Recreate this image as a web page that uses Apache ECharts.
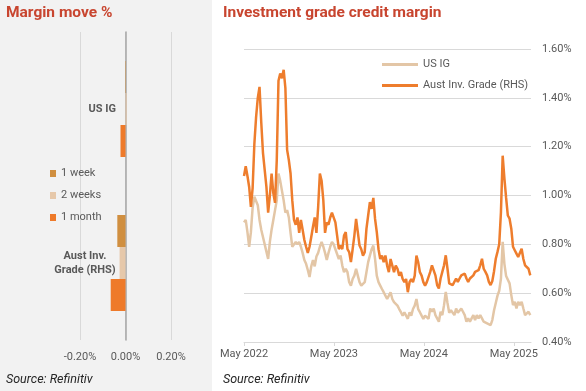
<!DOCTYPE html>
<html>
<head>
<meta charset="utf-8">
<script src="https://cdn.jsdelivr.net/npm/echarts@6/dist/echarts.min.js"></script>
<style>
html,body{margin:0;padding:0;background:#fff;}
#c{width:586px;height:391px;}
</style>
</head>
<body>
<div id="c"></div>
<script>
// ---- Left panel: margin move % ----
const moveCategories = ['US IG', 'Aust Inv. Grade (RHS)'];
const moveSeriesNames = ['1 week', '2 weeks', '1 month'];
const move1Week = [0.002, -0.036];
const move2Weeks = [0.005, -0.026];
const move1Month = [-0.022, -0.065];
const moveTicks = [-0.2, 0, 0.2];

// ---- Right panel: investment grade credit margin (weekly from start date) ----
const lineStartDate = '2022-05-01';
const lineStepDays = 7;
const usIG = [
0.89,0.90,0.85,0.79,0.85,0.95,0.995,0.99,0.96,0.90,0.86,0.83,0.83,0.77,0.74,0.81,0.86,0.90,0.94,0.98,1.09,1.06,1.02,0.98,0.93,0.94,0.91,0.847,0.79,0.79,0.81,0.80,0.81,0.79,0.765,0.736,0.72,0.695,0.666,0.71,0.736,0.71,0.75,0.765,0.79,0.81,0.79,0.765,0.736,0.765,0.79,0.81,0.80,0.78,
0.78,0.74,0.754,0.713,0.686,0.70,0.686,0.645,0.631,0.658,0.672,0.70,0.672,0.645,0.631,0.631,0.645,0.686,0.727,0.754,0.78,0.795,0.74,0.672,0.645,0.631,0.617,0.604,0.59,0.576,0.59,0.604,0.576,0.563,0.563,0.549,0.535,0.522,0.508,0.522,0.508,0.495,0.522,0.508,0.535,0.549,0.576,0.535,0.522,0.508,0.495,0.508,0.50,0.495,
0.537,0.524,0.537,0.51,0.497,0.483,0.524,0.51,0.551,0.605,0.56,0.52,0.53,0.524,0.51,0.537,0.52,0.524,0.537,0.524,0.51,0.483,0.497,0.483,0.497,0.51,0.49,0.51,0.497,0.51,0.497,0.483,0.49,0.476,0.483,0.469,0.49,0.53,0.56,0.59,0.61,0.66,0.81,0.72,0.67,0.673,0.64,0.592,0.551,0.565,0.537,0.565,0.551,0.565,0.537,0.51,0.503,0.524,0.51
];
const austIG = [
1.08,1.12,1.08,1.035,0.953,1.03,1.21,1.32,1.40,1.445,1.30,1.175,1.105,1.035,0.93,1.0,1.09,1.01,0.97,1.145,1.47,1.50,1.48,1.515,1.44,1.187,1.145,1.09,0.98,0.90,0.88,0.91,0.847,0.90,0.86,0.818,0.79,0.765,0.79,0.83,0.872,0.91,0.847,0.953,1.09,1.06,0.98,0.847,0.89,0.88,0.91,0.93,0.93,0.89,
0.836,0.78,0.795,0.78,0.836,0.85,0.78,0.768,0.727,0.78,0.836,0.904,0.85,0.795,0.78,0.754,0.768,0.863,0.918,0.973,0.945,0.99,0.904,0.85,0.78,0.74,0.754,0.727,0.754,0.713,0.686,0.74,0.713,0.686,0.713,0.70,0.672,0.686,0.658,0.645,0.658,0.604,0.645,0.658,0.645,0.672,0.754,0.727,0.686,0.672,0.645,0.631,0.645,0.645,
0.687,0.714,0.707,0.673,0.633,0.619,0.66,0.687,0.714,0.755,0.70,0.64,0.64,0.633,0.64,0.66,0.646,0.66,0.673,0.667,0.68,0.66,0.646,0.66,0.66,0.673,0.687,0.68,0.694,0.714,0.741,0.70,0.687,0.673,0.646,0.633,0.65,0.69,0.741,0.769,0.80,0.932,1.163,1.07,0.99,0.918,0.905,0.864,0.79,0.776,0.762,0.748,0.741,0.782,0.74,0.714,0.721,0.70,0.673
];
const lineTickLabels = ['May 2022', 'May 2023', 'May 2024', 'May 2025'];
const lineYTicks = [0.4, 0.6, 0.8, 1.0, 1.2, 1.4, 1.6];

// build x (days since start) from the weekly schedule
const dayOffsets = usIG.map((_, i) => i * lineStepDays);
const usSeries = usIG.map((v, i) => [dayOffsets[i], v]);
const auSeries = austIG.map((v, i) => [dayOffsets[i], v]);

const FONT = 'Roboto';
const GREY = '#595959';
const chart = echarts.init(document.getElementById('c'), null, {renderer: 'canvas'});

chart.setOption({
  animation: false,
  textStyle: {fontFamily: FONT},
  graphic: [
    {type: 'rect', left: 0, top: 0, z: -10, shape: {width: 212, height: 391}, style: {fill: '#f2f2f2'}},
    {type: 'text', left: 6, top: 5, style: {text: 'Margin move %', fill: '#c8452f', font: 'bold 15.5px ' + FONT}},
    {type: 'text', left: 223, top: 5, style: {text: 'Investment grade credit margin', fill: '#c8452f', font: 'bold 15.5px ' + FONT}},
    {type: 'text', left: 6, top: 373, style: {text: 'Source: Refinitiv', fill: '#262626', font: 'italic 12.5px ' + FONT}},
    {type: 'text', left: 223, top: 373, style: {text: 'Source: Refinitiv', fill: '#262626', font: 'italic 12.5px ' + FONT}}
  ],
  legend: [
    {
      data: moveSeriesNames, orient: 'vertical', left: 45, top: 163,
      icon: 'rect', itemWidth: 6, itemHeight: 7, itemGap: 11,
      textStyle: {color: GREY, fontSize: 11, fontFamily: FONT}
    },
    {
      data: ['US IG', 'Aust Inv. Grade (RHS)'], orient: 'vertical', left: 377, top: 54,
      icon: 'rect', itemWidth: 36, itemHeight: 3, itemGap: 10,
      textStyle: {color: GREY, fontSize: 11, fontFamily: FONT}
    }
  ],
  grid: [
    {left: 80, right: 415, top: 32, bottom: 51},
    {left: 244, right: 55, top: 49, bottom: 49}
  ],
  xAxis: [
    {
      gridIndex: 0, type: 'value', min: moveTicks[0], max: moveTicks[moveTicks.length - 1], interval: 0.2,
      axisLine: {show: false}, axisTick: {show: false},
      splitLine: {show: true, lineStyle: {color: '#d9d9d9', width: 1}},
      axisLabel: {color: GREY, fontSize: 11, margin: 12, formatter: v => v.toFixed(2) + '%'}
    },
    {
      gridIndex: 1, type: 'value', min: 0, max: 1165, interval: 365,
      axisLine: {show: true, lineStyle: {color: '#d9d9d9', width: 1}},
      axisTick: {show: true, length: 4, lineStyle: {color: '#d9d9d9'}},
      splitLine: {show: false},
      axisLabel: {color: GREY, fontSize: 11, margin: 7, showMaxLabel: false,
        formatter: v => lineTickLabels[Math.round(v / 365)] || ''}
    }
  ],
  yAxis: [
    {
      gridIndex: 0, type: 'category', inverse: true,
      data: moveCategories,
      axisLine: {show: true, onZero: true, lineStyle: {color: '#a6a6a6', width: 1.5}},
      axisTick: {show: false},
      axisLabel: {
        color: GREY, fontSize: 11, fontWeight: 'bold', margin: -36, lineHeight: 14,
        formatter: v => v === moveCategories[1] ? '{a|Aust Inv.}\n{a|Grade (RHS)}' : v,
        rich: {a: {width: 62, align: 'center', color: GREY, fontSize: 11, fontWeight: 'bold', lineHeight: 14}}
      }
    },
    {
      gridIndex: 1, type: 'value', position: 'right', min: lineYTicks[0], max: lineYTicks[lineYTicks.length - 1], interval: 0.2,
      axisLine: {show: false}, axisTick: {show: false},
      splitLine: {show: true, lineStyle: {color: '#d9d9d9', width: 1}},
      axisLabel: {color: GREY, fontSize: 11, margin: 11, formatter: v => v.toFixed(2) + '%'}
    }
  ],
  series: [
    {name: '1 week', type: 'bar', xAxisIndex: 0, yAxisIndex: 0, data: move1Week, barWidth: 32, barGap: '0%', itemStyle: {color: '#d08f40'}},
    {name: '2 weeks', type: 'bar', xAxisIndex: 0, yAxisIndex: 0, data: move2Weeks, barWidth: 32, barGap: '0%', itemStyle: {color: '#e6c8aa'}},
    {name: '1 month', type: 'bar', xAxisIndex: 0, yAxisIndex: 0, data: move1Month, barWidth: 32, barGap: '0%', itemStyle: {color: '#ee7a2a'}},
    {name: 'US IG', type: 'line', xAxisIndex: 1, yAxisIndex: 1, data: usSeries, symbol: 'none',
      lineStyle: {color: '#e3c6a6', width: 2.5}, itemStyle: {color: '#e3c6a6'}},
    {name: 'Aust Inv. Grade (RHS)', type: 'line', xAxisIndex: 1, yAxisIndex: 1, data: auSeries, symbol: 'none',
      lineStyle: {color: '#ee7d2d', width: 2.5}, itemStyle: {color: '#ee7d2d'}}
  ]
});
</script>
</body>
</html>
